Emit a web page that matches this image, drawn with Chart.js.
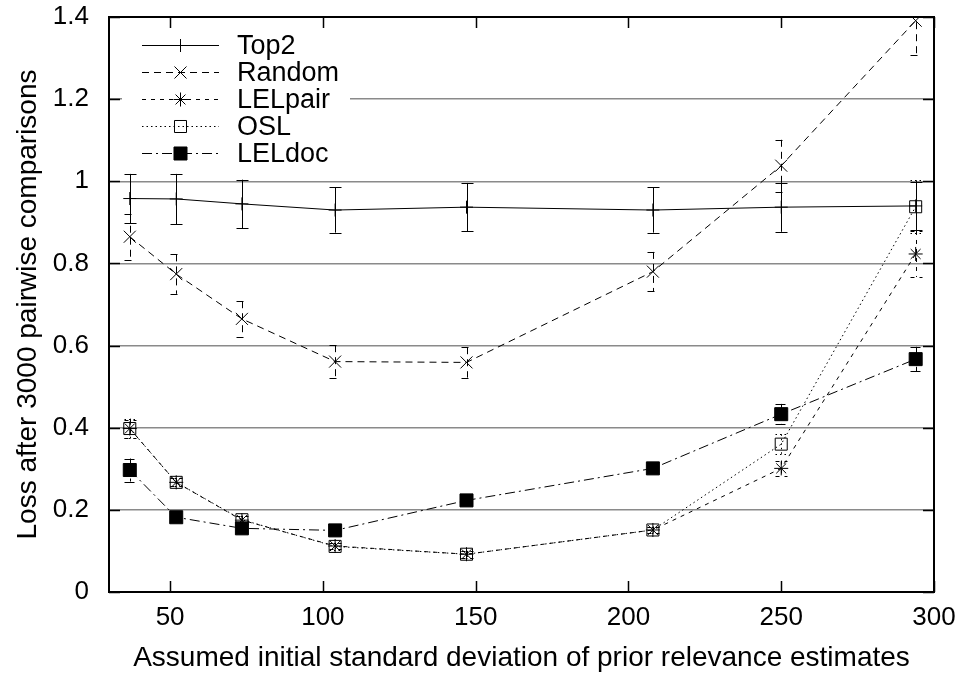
<!DOCTYPE html>
<html>
<head>
<meta charset="utf-8">
<script src="https://cdn.jsdelivr.net/npm/chart.js@4/dist/chart.umd.min.js"></script>
<style>
  html, body { margin: 0; padding: 0; background: #ffffff; }
  #wrap { width: 964px; height: 675px; }
</style>
</head>
<body>
<div id="wrap"><canvas id="c" width="964" height="675"></canvas></div>
<script>
// ---- data ----
const xValues = [36.8, 52, 73.5, 104, 147, 208, 250, 294];

const top2     = [0.958, 0.957, 0.945, 0.930, 0.937, 0.930, 0.937, 0.940];
const top2Err  = [0.060, 0.061, 0.059, 0.055, 0.059, 0.055, 0.060, 0.059];

const random    = [0.865, 0.774, 0.665, 0.561, 0.559, 0.780, 1.038, 1.391];
const randomErr = [0.056, 0.048, 0.043, 0.040, 0.037, 0.048, 0.063, 0.084];

const lelpair    = [0.398, 0.267, 0.175, 0.112, 0.092, 0.151, 0.301, 0.823];
const lelpairErr = [0.022, 0.010, 0.010, 0.008, 0.008, 0.008, 0.019, 0.056];

const osl    = [0.398, 0.267, 0.176, 0.111, 0.092, 0.151, 0.360, 0.938];
const oslErr = [0.024, 0.010, 0.010, 0.008, 0.008, 0.008, 0.024, 0.064];

const leldoc    = [0.297, 0.182, 0.155, 0.150, 0.223, 0.301, 0.433, 0.567];
const leldocErr = [0.028, 0.010, 0.010, 0.008, 0.010, 0.010, 0.025, 0.030];

const seriesNames = ['Top2', 'Random', 'LELpair', 'OSL', 'LELdoc'];
const xTicks = [50, 100, 150, 200, 250, 300];
const yTicks = [0, 0.2, 0.4, 0.6, 0.8, 1, 1.2, 1.4];

const xTitle = 'Assumed initial standard deviation of prior relevance estimates';
const yTitle = 'Loss after 3000 pairwise comparisons';

// ---- build datasets ----
const FONT = "'Liberation Sans', Arial, Helvetica, sans-serif";
function pts(ys) { return xValues.map((x, i) => ({ x: x, y: ys[i] })); }

const styles = [
  { dash: [],             pointStyle: 'cross',    radius: 6.5, fill: 'rgba(0,0,0,0)' },
  { dash: [7, 5],         pointStyle: 'crossRot', radius: 8.5, fill: 'rgba(0,0,0,0)' },
  { dash: [4, 5],         pointStyle: 'star',     radius: 7,   fill: 'rgba(0,0,0,0)' },
  { dash: [1.5, 3],       pointStyle: 'rect',     radius: 8.5, fill: 'rgba(0,0,0,0)' },
  { dash: [10, 4, 2, 4],  pointStyle: 'rect',     radius: 9.2, fill: '#000000' }
];
const seriesVals = [top2, random, lelpair, osl, leldoc];
const seriesErrs = [top2Err, randomErr, lelpairErr, oslErr, leldocErr];

const datasets = seriesNames.map((name, i) => ({
  label: name,
  data: pts(seriesVals[i]),
  errors: seriesErrs[i],
  showLine: true,
  tension: 0,
  borderColor: '#000000',
  borderWidth: 1,
  borderDash: styles[i].dash,
  pointStyle: styles[i].pointStyle,
  pointRadius: styles[i].radius,
  pointBorderWidth: 1,
  pointBorderColor: '#000000',
  pointBackgroundColor: styles[i].fill,
  backgroundColor: styles[i].fill,
  fill: false
}));

// ---- plugins ----
const errorBars = {
  id: 'errorBars',
  beforeDatasetsDraw(chart) {
    const ctx = chart.ctx, xs = chart.scales.x, ys = chart.scales.y, a = chart.chartArea;
    ctx.save();
    ctx.beginPath();
    ctx.rect(a.left, a.top, a.right - a.left, a.bottom - a.top);
    ctx.clip();
    ctx.strokeStyle = '#000000';
    ctx.lineWidth = 1;
    chart.data.datasets.forEach((ds) => {
      ctx.setLineDash(ds.borderDash || []);
      ds.data.forEach((p, j) => {
        const e = ds.errors[j];
        const px = Math.round(xs.getPixelForValue(p.x)) + 0.5;
        const y1 = ys.getPixelForValue(p.y + e);
        const y2 = ys.getPixelForValue(p.y - e);
        ctx.beginPath();
        ctx.moveTo(px, y1); ctx.lineTo(px, y2);
        ctx.moveTo(px - 6, Math.round(y1) + 0.5); ctx.lineTo(px + 6, Math.round(y1) + 0.5);
        ctx.moveTo(px - 6, Math.round(y2) + 0.5); ctx.lineTo(px + 6, Math.round(y2) + 0.5);
        ctx.stroke();
      });
    });
    ctx.restore();
  }
};

const frame = {
  id: 'frame',
  afterDatasetsDraw(chart) {
    const ctx = chart.ctx, xs = chart.scales.x, ys = chart.scales.y, a = chart.chartArea;
    ctx.save();
    ctx.strokeStyle = '#000000';
    ctx.setLineDash([]);
    ctx.lineWidth = 1.5;
    const tl = 11;
    ctx.beginPath();
    xTicks.forEach(v => {
      const px = Math.round(xs.getPixelForValue(v)) + 0.5;
      ctx.moveTo(px, a.bottom); ctx.lineTo(px, a.bottom - tl);
      ctx.moveTo(px, a.top); ctx.lineTo(px, a.top + tl);
    });
    yTicks.forEach(v => {
      const py = Math.round(ys.getPixelForValue(v)) + 0.5;
      ctx.moveTo(a.left, py); ctx.lineTo(a.left + tl, py);
      ctx.moveTo(a.right, py); ctx.lineTo(a.right - tl, py);
    });
    ctx.stroke();
    ctx.lineWidth = 2;
    ctx.strokeRect(a.left, a.top, a.right - a.left, a.bottom - a.top);
    ctx.restore();
  }
};

const keyBox = {
  id: 'keyBox',
  afterDraw(chart) {
    const ctx = chart.ctx, a = chart.chartArea;
    ctx.save();
    const bx = a.left + 13, by = a.top + 11;
    ctx.fillStyle = '#ffffff';
    ctx.fillRect(bx, by, 350 - bx, 140);
    const rowH = 27;
    const x0 = a.left + 33, x1 = a.left + 110, xm = (x0 + x1) / 2, tx = a.left + 128;
    chart.data.datasets.forEach((ds, i) => {
      const y = Math.round(a.top + 28 + i * rowH) + 0.5;
      ctx.strokeStyle = '#000000';
      ctx.lineWidth = 1;
      ctx.setLineDash(ds.borderDash || []);
      ctx.beginPath();
      ctx.moveTo(x0, y); ctx.lineTo(x1, y);
      ctx.stroke();
      ctx.setLineDash([]);
      ctx.fillStyle = ds.pointBackgroundColor;
      ctx.strokeStyle = '#000000';
      ctx.lineWidth = 1;
      if (Chart.helpers && Chart.helpers.drawPoint) {
        Chart.helpers.drawPoint(ctx, { pointStyle: ds.pointStyle, rotation: 0, radius: ds.pointRadius, borderWidth: 1 }, xm, y);
      }
      ctx.fillStyle = '#000000';
      ctx.font = '27px ' + FONT;
      ctx.textBaseline = 'middle';
      ctx.textAlign = 'left';
      ctx.fillText(ds.label, tx, y + 1);
    });
    ctx.restore();
  }
};

Chart.defaults.font.family = FONT;
Chart.defaults.color = '#000000';

new Chart(document.getElementById('c'), {
  type: 'scatter',
  data: { datasets: datasets },
  plugins: [errorBars, frame, keyBox],
  options: {
    responsive: false,
    animation: false,
    events: [],
    layout: { padding: { left: 0, right: 30, top: 17, bottom: 0 } },
    plugins: { legend: { display: false }, tooltip: { enabled: false } },
    scales: {
      x: {
        type: 'linear',
        min: 30, max: 300,
        afterBuildTicks(scale) { scale.ticks = xTicks.map(v => ({ value: v })); },
        afterFit(scale) { scale.height = 83; scale.paddingLeft = 0; scale.paddingRight = 0; },
        grid: { display: false, drawTicks: false },
        border: { display: false },
        ticks: { font: { size: 26 }, padding: 10, maxRotation: 0, autoSkip: false, callback: v => String(v) },
        title: { display: true, text: xTitle, font: { size: 28 }, padding: { top: 0, bottom: 0 } }
      },
      y: {
        type: 'linear',
        min: 0, max: 1.4,
        afterBuildTicks(scale) { scale.ticks = yTicks.map(v => ({ value: v })); },
        afterFit(scale) { scale.width = 109; scale.paddingTop = 0; scale.paddingBottom = 0; },
        grid: { color: '#8a8a8a', lineWidth: 1.5, drawTicks: false },
        border: { display: false },
        ticks: { font: { size: 26 }, padding: 20, autoSkip: false, callback: v => String(v) },
        title: { display: true, text: yTitle, font: { size: 28 }, padding: { top: 11, bottom: 0 } }
      }
    }
  }
});
</script>
</body>
</html>
